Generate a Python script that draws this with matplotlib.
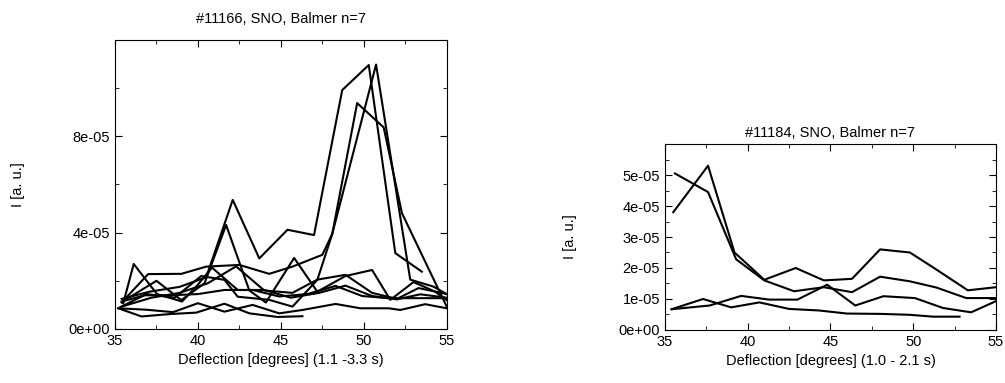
import numpy as np
import matplotlib
matplotlib.use('Agg')
import matplotlib.pyplot as plt
from matplotlib.ticker import MultipleLocator, FixedLocator, FuncFormatter

plt.rcParams['font.family'] = ['Liberation Sans', 'DejaVu Sans']
plt.rcParams['font.size'] = 10.5

# shot #11166, intensities in units of 1e-5
left_lines = [
    ([35.4, 37.1, 38.9, 40.5, 42.1, 43.7, 45.4, 47.0, 48.7, 50.3, 51.9, 53.5],
     [1.25, 1.55, 1.75, 2.15, 5.36, 2.93, 4.12, 3.9, 9.92, 10.96, 3.15, 2.38]),
    ([35.4, 37.0, 39.0, 40.5, 42.5, 44.3, 45.7, 47.5, 48.1, 49.6, 51.2, 52.3, 55.0],
     [1.1, 2.28, 2.29, 2.59, 2.66, 2.29, 2.59, 3.08, 3.95, 9.38, 8.37, 4.81, 0.93]),
    ([35.6, 37.5, 39.0, 40.4, 41.7, 43.1, 44.1, 45.8, 47.2, 48.9, 50.5, 51.6, 53.0, 54.3, 55.0],
     [1.2, 2.0, 1.2, 1.9, 4.32, 1.6, 1.1, 2.95, 1.55, 2.2, 2.45, 1.21, 1.95, 1.55, 1.2]),
    ([35.5, 36.13, 37.53, 39.04, 39.95, 40.85, 42.4, 44.0, 45.6, 47.3, 48.9, 50.5, 52.0, 53.4, 55.0],
     [1.07, 2.70, 1.45, 1.14, 1.8, 2.55, 1.62, 1.62, 1.3, 1.5, 1.8, 1.37, 1.23, 1.44, 1.3]),
    ([35.4, 36.8, 38.4, 40.0, 41.6, 43.3, 44.9, 46.6, 48.3, 49.9, 51.5, 53.2, 55.0],
     [1.14, 1.4, 1.4, 1.45, 1.62, 1.62, 1.35, 1.45, 1.79, 1.37, 1.28, 1.28, 1.28]),
    ([35.3, 36.9, 38.6, 40.2, 41.6, 42.4, 44.3, 45.7, 47.2, 48.1, 50.74, 52.8, 54.2, 55.0],
     [0.9, 1.45, 1.3, 2.2, 2.04, 1.34, 1.21, 0.93, 2.04, 3.95, 10.98, 2.05, 1.76, 1.45]),
    ([35.2, 36.6, 38.3, 39.9, 41.6, 43.1, 44.8, 46.3],
     [0.86, 0.52, 0.62, 0.68, 1.05, 0.65, 0.5, 0.53]),
    ([35.2, 36.9, 38.5, 40.0, 41.6, 43.3, 44.9, 46.3, 48.3, 49.8, 51.5, 52.2, 53.7, 55.0],
     [0.86, 0.8, 0.7, 1.07, 0.72, 1.0, 0.65, 0.79, 1.04, 0.86, 0.86, 0.79, 1.03, 0.86]),
    ([35.5, 37.2, 38.9, 40.6, 42.3, 44.0, 45.7, 47.2, 48.9, 50.5, 52.0, 53.3, 55.0],
     [0.95, 1.3, 1.5, 1.9, 2.6, 1.6, 1.5, 2.05, 2.25, 1.5, 1.25, 1.7, 1.45]),
]

# shot #11184, intensities in units of 1e-5
right_lines = [
    ([35.5, 37.6, 39.2, 41.0, 42.9, 44.6, 46.3, 48.0, 49.8, 51.4, 53.3, 55.0],
     [3.8, 5.3, 2.5, 1.62, 2.0, 1.6, 1.65, 2.6, 2.5, 1.95, 1.28, 1.38]),
    ([35.6, 37.6, 39.3, 41.0, 42.8, 44.6, 46.3, 48.0, 49.8, 51.4, 53.2, 55.0],
     [5.05, 4.45, 2.28, 1.6, 1.25, 1.38, 1.22, 1.72, 1.57, 1.37, 1.03, 1.03]),
    ([35.4, 37.3, 39.0, 40.7, 42.5, 44.3, 46.0, 48.0, 49.8, 51.2, 52.8],
     [0.67, 1.0, 0.73, 0.89, 0.68, 0.63, 0.53, 0.52, 0.49, 0.43, 0.43]),
    ([35.4, 37.7, 39.6, 41.3, 43.0, 44.8, 46.5, 48.2, 50.1, 51.8, 53.5, 55.0],
     [0.67, 0.79, 1.1, 0.98, 0.98, 1.46, 0.79, 1.09, 1.03, 0.71, 0.57, 0.93]),
]

left_yticks = [0, 4e-5, 8e-5]
right_yticks = [0, 1e-5, 2e-5, 3e-5, 4e-5, 5e-5]

sci = FuncFormatter(lambda v, pos: '{:.0e}'.format(v))

fig = plt.figure(figsize=(10.05, 3.83), dpi=100)
ax1 = fig.add_axes([0.1144, 0.141, 0.3301, 0.7546])
ax2 = fig.add_axes([0.6617, 0.1384, 0.3293, 0.4856])

for x, y in left_lines:
    ax1.plot(x, np.array(y) * 1e-5, color='black', lw=1.5)
for x, y in right_lines:
    ax2.plot(x, np.array(y) * 1e-5, color='black', lw=1.5)

ax1.set_ylim(0, 1.2e-4)
ax1.yaxis.set_major_locator(FixedLocator(left_yticks))
ax1.yaxis.set_minor_locator(FixedLocator([2e-5, 6e-5, 1e-4]))
ax2.set_ylim(0, 6e-5)
ax2.yaxis.set_major_locator(FixedLocator(right_yticks))
ax2.yaxis.set_minor_locator(FixedLocator([0.5e-5, 1.5e-5, 2.5e-5, 3.5e-5, 4.5e-5, 5.5e-5]))

for ax in (ax1, ax2):
    ax.set_xlim(35, 55)
    ax.xaxis.set_major_locator(MultipleLocator(5))
    ax.xaxis.set_minor_locator(MultipleLocator(2.5))
    ax.yaxis.set_major_formatter(sci)
    ax.tick_params(which='both', direction='in', top=True, right=True)
    ax.tick_params(which='major', length=5)
    ax.tick_params(which='minor', length=3)
    ax.set_ylabel('I [a. u.]')

ax1.set_title('#11166, SNO, Balmer n=7', fontsize=10.5, pad=12)
ax2.set_title('#11184, SNO, Balmer n=7', fontsize=10.5, pad=5)
ax1.set_xlabel('Deflection [degrees] (1.1 -3.3 s)')
ax2.set_xlabel('Deflection [degrees] (1.0 - 2.1 s)')
ax1.yaxis.set_label_coords(-0.27, 0.5)
ax2.yaxis.set_label_coords(-0.265, 0.5)

fig.savefig('out.png', dpi=100)
